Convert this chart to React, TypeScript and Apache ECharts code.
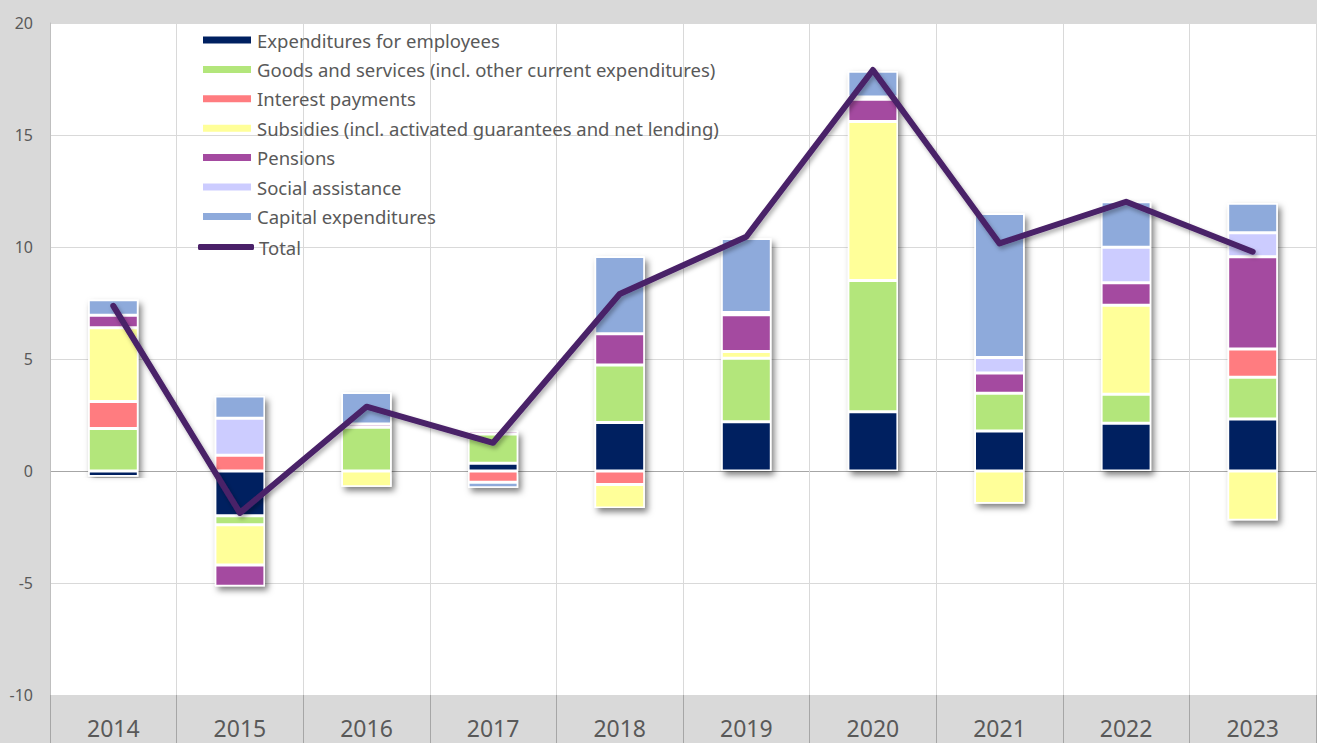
import React, { useEffect, useRef } from "react";
import * as echarts from "echarts";

const categories = ["2014", "2015", "2016", "2017", "2018", "2019", "2020", "2021", "2022", "2023"];
const employees = [-0.25, -2.0, 0, 0.35, 2.16, 2.2, 2.65, 1.79, 2.13, 2.32];
const goods = [1.9, -0.4, 1.95, 1.3, 2.57, 2.83, 5.85, 1.68, 1.3, 1.86];
const interest = [1.2, 0.7, 0, -0.5, -0.6, 0, 0, 0, 0, 1.27];
const subsidies = [3.3, -1.8, -0.7, 0, -1.05, 0.3, 7.1, -1.45, 3.97, -2.2];
const pensions = [0.55, -0.95, 0.15, 0.15, 1.4, 1.65, 1.0, 0.9, 1.0, 4.12];
const social = [0, 1.65, 0, 0, 0, 0.1, 0.1, 0.7, 1.59, 1.07];
const capital = [0.7, 1.0, 1.4, -0.25, 3.45, 3.3, 1.15, 6.43, 2.03, 1.31];
const total = [7.37, -1.87, 2.87, 1.26, 7.9, 10.46, 17.9, 10.16, 12.02, 9.79];
const yTicks = [-10, -5, 0, 5, 10, 15, 20];

const seriesDefs = [
  { name: "Expenditures for employees", data: employees, color: "#002060" },
  { name: "Goods and services (incl. other current expenditures)", data: goods, color: "#b3e67b" },
  { name: "Interest payments", data: interest, color: "#ff7c80" },
  { name: "Subsidies (incl. activated guarantees and net lending)", data: subsidies, color: "#ffff99" },
  { name: "Pensions", data: pensions, color: "#a44aa0" },
  { name: "Social assistance", data: social, color: "#ccccff" },
  { name: "Capital expenditures", data: capital, color: "#8eaadb" },
];

const FONT = "'Noto Sans', 'Open Sans', sans-serif";
const TEXT = "#595959";
const LINE = "#4a2068";
const BAR_W = 50;

export default function App() {
  const ref = useRef<HTMLDivElement>(null);
  useEffect(() => {
    if (!ref.current) return;
    const chart = echarts.init(ref.current, undefined, { renderer: "svg" });
    const posSum = categories.map((_, i) =>
      seriesDefs.reduce((s, d) => s + (d.data[i] > 0 ? d.data[i] : 0), 0)
    );
    const negSum = categories.map((_, i) =>
      seriesDefs.reduce((s, d) => s + (d.data[i] < 0 ? d.data[i] : 0), 0)
    );
    const shadowStyle = {
      color: "#ffffff",
      borderColor: "#ffffff",
      borderWidth: 3,
      shadowColor: "rgba(0,0,0,0.5)",
      shadowBlur: 6,
      shadowOffsetX: 3,
      shadowOffsetY: 4,
    };
    const splitColors = yTicks.map((t) => (t === 0 ? "#a6a6a6" : "#d9d9d9"));
    const legendText = { color: TEXT, fontSize: 18.5, fontFamily: FONT, lineHeight: 20 };
    chart.setOption({
      animation: false,
      backgroundColor: "#d9d9d9",
      textStyle: { fontFamily: FONT },
      grid: {
        left: 50,
        right: 1,
        top: 23,
        bottom: 48,
        show: true,
        backgroundColor: "#ffffff",
        borderWidth: 0,
      },
      legend: [
        {
          orient: "vertical",
          left: 196,
          top: 25,
          itemWidth: 50,
          itemHeight: 9,
          itemGap: 9.4,
          data: seriesDefs.map((d) => ({ name: d.name, icon: "rect" })),
          textStyle: legendText,
        },
        {
          orient: "vertical",
          left: 193,
          top: 232,
          itemWidth: 56,
          itemHeight: 6,
          data: [{ name: "Total", icon: "roundRect", itemStyle: { color: LINE } }],
          textStyle: legendText,
        },
      ],
      xAxis: {
        type: "category",
        data: categories,
        axisLine: { show: false, onZero: false },
        axisTick: { show: true, length: 48, lineStyle: { color: "#a6a6a6" } },
        splitLine: { show: true, lineStyle: { color: "#d9d9d9", width: 1 } },
        axisLabel: { color: TEXT, fontSize: 23, margin: 21, fontFamily: FONT },
      },
      yAxis: {
        type: "value",
        min: -10,
        max: 20,
        interval: 5,
        axisLine: { show: true, lineStyle: { color: "#bfbfbf" } },
        axisTick: { show: false },
        axisLabel: { color: TEXT, fontSize: 16, margin: 17, fontFamily: FONT },
        splitLine: { show: true, lineStyle: { color: splitColors, width: 1 } },
      },
      series: [
        {
          name: "_shadowPos",
          type: "bar",
          stack: "shadow",
          barWidth: BAR_W,
          barGap: "-100%",
          data: posSum.map((v) => (v > 0 ? v : null)),
          itemStyle: shadowStyle,
          silent: true,
        },
        {
          name: "_shadowNeg",
          type: "bar",
          stack: "shadow",
          barWidth: BAR_W,
          barGap: "-100%",
          data: negSum.map((v) => (v < 0 ? v : null)),
          itemStyle: shadowStyle,
          silent: true,
        },
        ...seriesDefs.map((d) => ({
          name: d.name,
          type: "bar",
          stack: "main",
          barWidth: BAR_W,
          barGap: "-100%",
          data: d.data.map((v) => (v === 0 ? null : v)),
          itemStyle: { color: d.color, borderColor: "#ffffff", borderWidth: 1.5 },
        })),
        {
          name: "Total",
          type: "line",
          data: total,
          symbol: "none",
          z: 5,
          lineStyle: {
            color: LINE,
            width: 6,
            cap: "round",
            join: "round",
            shadowColor: "rgba(0,0,0,0.3)",
            shadowBlur: 4,
            shadowOffsetX: 2,
            shadowOffsetY: 3,
          },
          itemStyle: { color: LINE },
        },
      ],
    });
    return () => chart.dispose();
  }, []);
  return (
    <div
      ref={ref}
      style={{ position: "absolute", left: 0, top: 0, width: 1317, height: 743 }}
    />
  );
}
